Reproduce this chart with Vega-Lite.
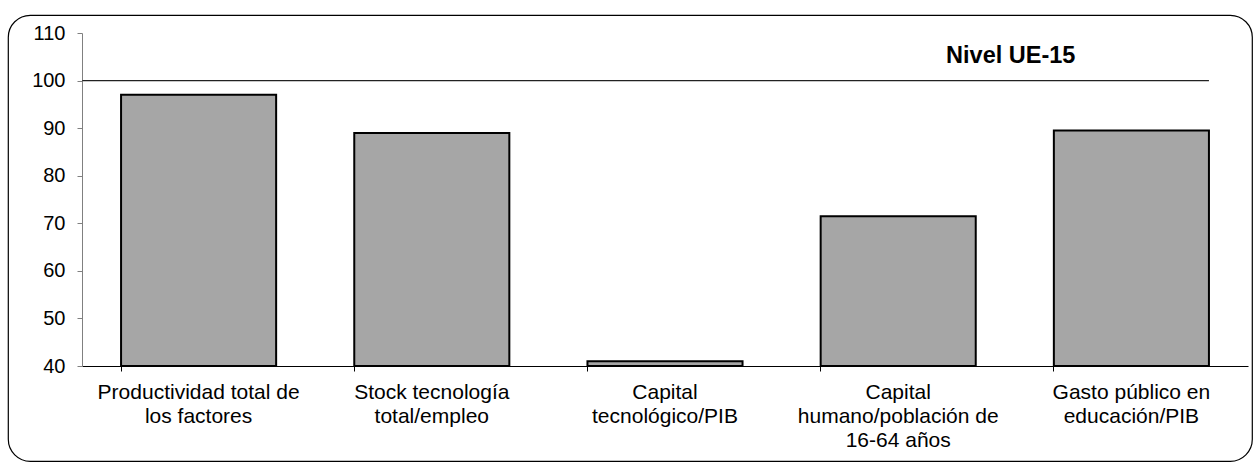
{
  "$schema": "https://vega.github.io/schema/vega-lite/v6.json",
  "width": 1244,
  "height": 446,
  "padding": {"left": 8, "top": 15, "right": 2, "bottom": 1},
  "autosize": {"type": "none"},
  "background": "white",
  "config": {
    "view": {"stroke": "#000000", "strokeWidth": 1.2, "cornerRadius": 22},
    "font": "Liberation Sans"
  },
  "datasets": {
    "bars": [
      {"indicador": "Productividad total de\nlos factores", "valor": 97},
      {"indicador": "Stock tecnología\ntotal/empleo", "valor": 89},
      {"indicador": "Capital\ntecnológico/PIB", "valor": 41},
      {"indicador": "Capital\nhumano/población de\n16-64 años", "valor": 71.5},
      {"indicador": "Gasto público en\neducación/PIB", "valor": 89.5}
    ],
    "ref": [
      {"desde": "Productividad total de\nlos factores", "hasta": "Gasto público en\neducación/PIB", "nivel": 100}
    ],
    "nota": [
      {"indicador": "Gasto público en\neducación/PIB", "y": 103.6, "texto": "Nivel UE-15"}
    ]
  },
  "layer": [
    {
      "data": {"name": "bars"},
      "mark": {"type": "bar", "fill": "#A6A6A6", "stroke": "#000000", "strokeWidth": 2},
      "encoding": {
        "x": {
          "field": "indicador", "type": "nominal", "sort": null,
          "scale": {
            "domain": ["Productividad total de\nlos factores", "Stock tecnología\ntotal/empleo", "Capital\ntecnológico/PIB", "Capital\nhumano/población de\n16-64 años", "Gasto público en\neducación/PIB"],
            "range": [74, 1240], "paddingInner": 0.335, "paddingOuter": 0.1675
          },
          "axis": {
            "title": null, "labelAngle": 0, "offset": -95,
            "labelExpr": "split(datum.label, '\\n')",
            "labelFontSize": 21, "labelColor": "#000000", "labelLineHeight": 24,
            "labelPadding": 10, "labelBaseline": "top",
            "tickSize": 5, "tickColor": "#000000", "domainColor": "#000000", "domainWidth": 1.2,
            "bandPosition": 0, "labelLimit": 0, "grid": false
          }
        },
        "y": {
          "field": "valor", "type": "quantitative",
          "scale": {"domain": [40, 110], "range": [351, 18], "zero": false, "nice": false},
          "axis": {
            "title": null, "offset": -74, "values": [40, 50, 60, 70, 80, 90, 100, 110],
            "labelFontSize": 20, "labelColor": "#000000", "labelPadding": 12,
            "tickSize": 5, "tickColor": "#808080", "domainColor": "#808080", "grid": false
          }
        },
        "y2": {"datum": 40}
      }
    },
    {
      "data": {"name": "ref"},
      "mark": {"type": "rule", "color": "#222222", "strokeWidth": 1.2},
      "encoding": {
        "x": {"field": "desde", "type": "nominal", "bandPosition": -0.25, "sort": null},
        "x2": {"field": "hasta", "bandPosition": 1},
        "y": {"field": "nivel", "type": "quantitative"}
      }
    },
    {
      "data": {"name": "nota"},
      "mark": {"type": "text", "fontSize": 23.5, "fontWeight": "bold", "align": "right", "baseline": "alphabetic", "dx": -56, "color": "#000000"},
      "encoding": {
        "x": {"field": "indicador", "type": "nominal", "sort": null},
        "y": {"field": "y", "type": "quantitative"},
        "text": {"field": "texto"}
      }
    }
  ]
}
